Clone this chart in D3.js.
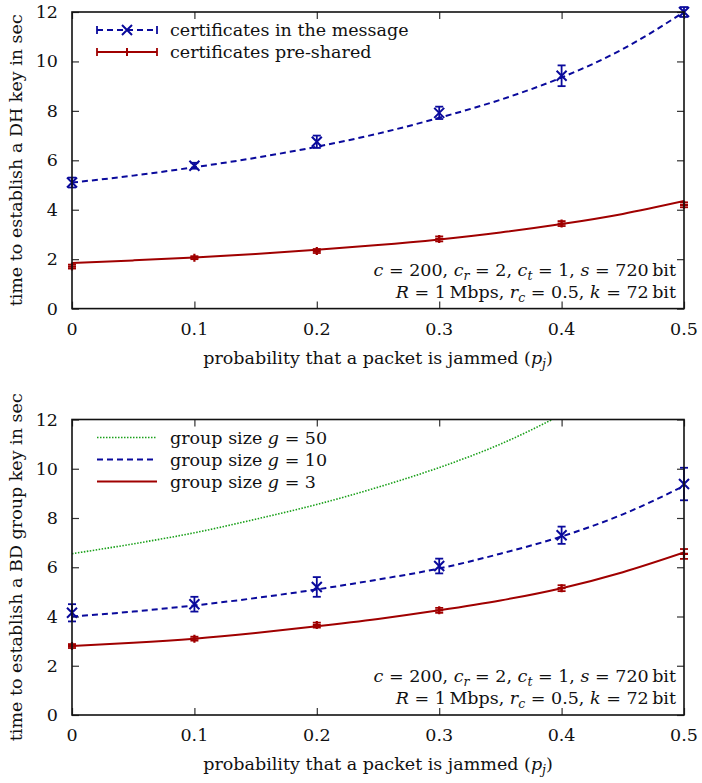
<!DOCTYPE html>
<html><head><meta charset="utf-8">
<script src="https://cdn.jsdelivr.net/npm/d3@7"></script>
<style>
body{margin:0;background:#fff;}
svg text{font-family:"DejaVu Serif","Liberation Serif",serif;fill:#111;}
</style></head>
<body><svg id="c" width="702" height="783"></svg>
<script>
// ---------- data ----------
const pj = [0, 0.1, 0.2, 0.3, 0.4, 0.5];
const xTicks = [0, 0.1, 0.2, 0.3, 0.4, 0.5];
const xTickLabels = ["0", "0.1", "0.2", "0.3", "0.4", "0.5"];
const yTicks = [0, 2, 4, 6, 8, 10, 12];
const curveP = [0, 0.05, 0.1, 0.15, 0.2, 0.25, 0.3, 0.35, 0.4, 0.45, 0.5];

// top panel (DH key)
const dhMsgMeas = [5.1, 5.78, 6.75, 7.92, 9.42, 12.0];
const dhMsgErr  = [0.2, 0.12, 0.25, 0.25, 0.42, 0.2];
const dhMsgModel = [5.1, 5.38, 5.72, 6.1, 6.55, 7.08, 7.72, 8.45, 9.35, 10.5, 12.0];
const dhPreMeas = [1.7, 2.06, 2.33, 2.82, 3.44, 4.2];
const dhPreErr  = [0.08, 0.06, 0.08, 0.1, 0.1, 0.1];
const dhPreModel = [1.84, 1.95, 2.07, 2.21, 2.38, 2.57, 2.8, 3.08, 3.42, 3.83, 4.35];

// bottom panel (BD group key)
const g50Model = [6.55, 6.95, 7.4, 7.95, 8.55, 9.25, 10.05, 11.0, 12.2, 13.6, 15.4];
const g10Meas = [4.15, 4.5, 5.2, 6.05, 7.3, 9.38];
const g10Err  = [0.35, 0.3, 0.4, 0.3, 0.35, 0.66];
const g10Model = [4.0, 4.2, 4.45, 4.75, 5.1, 5.5, 5.95, 6.55, 7.25, 8.15, 9.3];
const g3Meas = [2.8, 3.1, 3.65, 4.25, 5.15, 6.54];
const g3Err  = [0.08, 0.08, 0.1, 0.1, 0.12, 0.2];
const g3Model = [2.8, 2.93, 3.1, 3.33, 3.6, 3.9, 4.25, 4.65, 5.15, 5.8, 6.6];

const BLUE = "#0a0a9c", RED = "#a00000", GREEN = "#1aa01a";
const FS = 17.5, SUB = 12.5;

const svg = d3.select("#c");
const X0 = 72, X1 = 684;

function drawPanel(cfg) {
  const x = d3.scaleLinear().domain([0, 0.5]).range([X0, X1]);
  const y = d3.scaleLinear().domain([0, 12]).range([cfg.bottom, cfg.top]);
  const g = svg.append("g");
  const clipId = "clip" + cfg.id;
  svg.append("clipPath").attr("id", clipId).append("rect")
    .attr("x", X0).attr("y", cfg.top).attr("width", X1 - X0).attr("height", cfg.bottom - cfg.top);

  // ticks (inward) on all four sides
  const tl = 7;
  const axL = d3.axisRight(y).tickValues(yTicks).tickSize(tl).tickFormat("");
  const axR = d3.axisLeft(y).tickValues(yTicks).tickSize(tl).tickFormat("");
  const axB = d3.axisTop(x).tickValues(xTicks).tickSize(tl).tickFormat("");
  const axT = d3.axisBottom(x).tickValues(xTicks).tickSize(tl).tickFormat("");
  [[axL, `translate(${X0},0)`], [axR, `translate(${X1},0)`], [axB, `translate(0,${cfg.bottom})`], [axT, `translate(0,${cfg.top})`]]
    .forEach(([ax, tr]) => {
      const a = g.append("g").attr("transform", tr).call(ax);
      a.select(".domain").remove();
      a.selectAll("line").attr("stroke", "#333").attr("stroke-width", 1.2);
    });

  // tick labels
  g.selectAll(".yl").data(yTicks).join("text")
    .attr("x", 58).attr("y", d => y(d) + 6).attr("text-anchor", "end")
    .attr("font-size", FS).text(d => d);
  g.selectAll(".xl").data(xTicks).join("text")
    .attr("x", d => x(d)).attr("y", cfg.bottom + 26).attr("text-anchor", "middle")
    .attr("font-size", FS).text((d, i) => xTickLabels[i]);

  // axis titles
  g.append("text").attr("transform", `translate(22,${(cfg.top + cfg.bottom) / 2}) rotate(-90)`)
    .attr("text-anchor", "middle").attr("font-size", FS).text(cfg.ylabel);
  const xt = g.append("text").attr("x", (X0 + X1) / 2).attr("y", cfg.bottom + 55)
    .attr("text-anchor", "middle").attr("font-size", FS);
  xt.append("tspan").text("probability that a packet is jammed (");
  xt.append("tspan").attr("font-style", "italic").text("p");
  xt.append("tspan").attr("font-style", "italic").attr("font-size", SUB).attr("dy", 4).text("j");
  xt.append("tspan").attr("dy", -4).text(")");

  const line = d3.line().x((d, i) => x(curveP[i])).y(d => y(d)).curve(d3.curveMonotoneX);
  const plot = g.append("g").attr("clip-path", `url(#${clipId})`);

  cfg.series.forEach(s => {
    plot.append("path").datum(s.model).attr("d", line)
      .attr("fill", "none").attr("stroke", s.color).attr("stroke-width", s.width || 2)
      .attr("stroke-dasharray", s.dash || null);
  });

  const marks = g.append("g");
  cfg.series.filter(s => s.meas).forEach(s => {
    s.meas.forEach((v, i) => {
      const cx = x(pj[i]), cy = y(v);
      const e1 = y(v + s.err[i]), e2 = y(v - s.err[i]);
      const mg = marks.append("g").attr("stroke", s.color).attr("stroke-width", 1.8).attr("fill", "none");
      mg.append("line").attr("x1", cx).attr("x2", cx).attr("y1", e1).attr("y2", e2);
      mg.append("line").attr("x1", cx - 4).attr("x2", cx + 4).attr("y1", e1).attr("y2", e1);
      mg.append("line").attr("x1", cx - 4).attr("x2", cx + 4).attr("y1", e2).attr("y2", e2);
      if (s.marker === "x") {
        mg.append("path").attr("stroke-width", 2)
          .attr("d", `M${cx - 5},${cy - 5}L${cx + 5},${cy + 5}M${cx - 5},${cy + 5}L${cx + 5},${cy - 5}`);
      } else {
        mg.append("path").attr("stroke-width", 2.2)
          .attr("d", `M${cx - 4},${cy}L${cx + 4},${cy}M${cx},${cy - 4}L${cx},${cy + 4}`);
      }
    });
  });

  // legend
  cfg.series.forEach((s, i) => {
    const ly = cfg.top + 18 + i * 22;
    const lg = g.append("g").attr("stroke", s.color).attr("fill", "none");
    lg.append("line").attr("x1", 97).attr("x2", 157).attr("y1", ly).attr("y2", ly)
      .attr("stroke-width", s.width || 2).attr("stroke-dasharray", s.dash || null);
    if (s.meas && !s.legendPlain) {
      lg.append("line").attr("x1", 97).attr("x2", 97).attr("y1", ly - 4).attr("y2", ly + 4).attr("stroke-width", 1.8);
      lg.append("line").attr("x1", 157).attr("x2", 157).attr("y1", ly - 4).attr("y2", ly + 4).attr("stroke-width", 1.8);
      const cx = 127;
      if (s.marker === "x") {
        lg.append("path").attr("stroke-width", 2)
          .attr("d", `M${cx - 5},${ly - 5}L${cx + 5},${ly + 5}M${cx - 5},${ly + 5}L${cx + 5},${ly - 5}`);
      } else {
        lg.append("path").attr("stroke-width", 2)
          .attr("d", `M${cx},${ly - 4}L${cx},${ly + 4}`);
      }
    }
    const t = g.append("text").attr("x", 170).attr("y", ly + 6).attr("font-size", FS);
    s.label.forEach(p => {
      const ts = t.append("tspan").text(p.t);
      if (p.i) ts.attr("font-style", "italic");
    });
  });

  // annotation
  const a1 = g.append("text").attr("x", 676).attr("y", cfg.bottom - 33).attr("text-anchor", "end").attr("font-size", FS);
  const a2 = g.append("text").attr("x", 676).attr("y", cfg.bottom - 11).attr("text-anchor", "end").attr("font-size", FS);
  function math(t, parts) {
    parts.forEach(p => {
      const ts = t.append("tspan").text(p.t);
      if (p.i) ts.attr("font-style", "italic");
      if (p.sub) ts.attr("font-style", "italic").attr("font-size", SUB).attr("dy", 4);
      if (p.up) ts.attr("dy", -4);
    });
  }
  math(a1, [{t: "c", i: 1}, {t: " = 200, "}, {t: "c", i: 1}, {t: "r", sub: 1}, {t: " = 2, ", up: 1},
            {t: "c", i: 1}, {t: "t", sub: 1}, {t: " = 1, ", up: 1}, {t: "s", i: 1}, {t: " = 720\u2009bit"}]);
  math(a2, [{t: "R", i: 1}, {t: " = 1\u2009Mbps, "}, {t: "r", i: 1}, {t: "c", sub: 1}, {t: " = 0.5, ", up: 1},
            {t: "k", i: 1}, {t: " = 72\u2009bit"}]);

  // frame
  g.append("rect").attr("x", X0).attr("y", cfg.top).attr("width", X1 - X0).attr("height", cfg.bottom - cfg.top)
    .attr("fill", "none").attr("stroke", "#111").attr("stroke-width", 1.6);
}

drawPanel({
  id: 1, top: 12, bottom: 308.6,
  ylabel: "time to establish a DH key in sec",
  series: [
    {color: BLUE, dash: "6,4", model: dhMsgModel, meas: dhMsgMeas, err: dhMsgErr, marker: "x",
     label: [{t: "certificates in the message"}]},
    {color: RED, model: dhPreModel, meas: dhPreMeas, err: dhPreErr, marker: "+",
     label: [{t: "certificates pre-shared"}]}
  ]
});

drawPanel({
  id: 2, top: 419.5, bottom: 715,
  ylabel: "time to establish a BD group key in sec",
  series: [
    {color: GREEN, dash: "1.5,1.5", width: 1.6, model: g50Model, label: [{t: "group size "}, {t: "g", i: 1}, {t: " = 50"}]},
    {color: BLUE, dash: "6,4", model: g10Model, meas: g10Meas, err: g10Err, marker: "x",
     legendPlain: true, label: [{t: "group size "}, {t: "g", i: 1}, {t: " = 10"}]},
    {color: RED, model: g3Model, meas: g3Meas, err: g3Err, marker: "+",
     legendPlain: true, label: [{t: "group size "}, {t: "g", i: 1}, {t: " = 3"}]}
  ]
});
</script></body></html>
